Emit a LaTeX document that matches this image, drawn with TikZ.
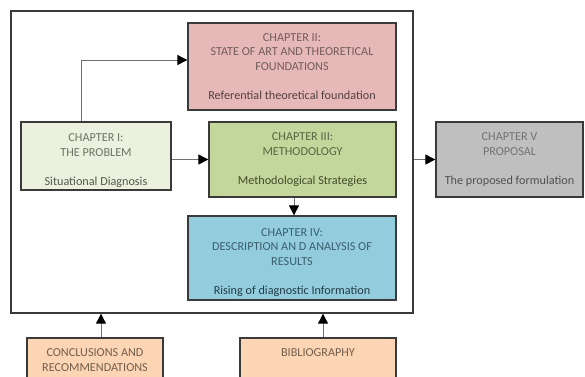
\documentclass[tikz,border=0pt]{standalone}
\usepackage{fontspec}
\setmainfont{Carlito}
\usetikzlibrary{arrows.meta,calc}

\definecolor{edge}{HTML}{3A3A3A}
\definecolor{link}{HTML}{707070}
\definecolor{pinkfill}{HTML}{E6B9B8}
\definecolor{palegreen}{HTML}{EBF1DE}
\definecolor{olivefill}{HTML}{C3D69B}
\definecolor{bluefill}{HTML}{93CDDD}
\definecolor{grayfill}{HTML}{BFBFBF}
\definecolor{peachfill}{HTML}{FCD5B5}

% a tall strut on a first line lowers the whole text block a little
\newcommand{\topgap}{\rule{0pt}{17pt}}

\tikzset{
  chapbox/.style={draw=edge, line width=1.3pt, rectangle, align=center,
    inner sep=0pt, font=\fontsize{12.2}{14.5}\selectfont},
  framebox/.style={draw=edge, line width=1.3pt, rectangle, inner sep=0pt},
  arr/.style={draw=link, line width=0.9pt,
    -{Triangle[length=10pt,width=10pt,fill=black,color=black]}},
}

\begin{document}
\begin{tikzpicture}[x=1pt,y=-1pt]
  \useasboundingbox (0,0) rectangle (585,376);
  \clip (0,0) rectangle (585,376);

  % enclosing frame of the core chapters
  \node[framebox, minimum width=402pt, minimum height=302pt] (frame) at (212,162) {};

  % chapters
  \node[chapbox, fill=pinkfill, minimum width=208pt, minimum height=87pt] (c2) at (292,66.5)
    {\color[HTML]{735C5C}CHAPTER II:\\\color[HTML]{735C5C}STATE OF ART AND THEORETICAL\\\color[HTML]{735C5C}FOUNDATIONS\\[14.5pt]\color[HTML]{544040}Referential theoretical foundation};

  \node[chapbox, fill=palegreen, minimum width=150pt, minimum height=68pt] (c1) at (96,156)
    {\topgap\color[HTML]{6E7264}CHAPTER I:\\\color[HTML]{6E7264}THE PROBLEM\\[14.5pt]\color[HTML]{54584A}Situational Diagnosis};

  \node[chapbox, fill=olivefill, minimum width=187pt, minimum height=75pt] (c3) at (302.5,159.5)
    {\color[HTML]{5A6642}CHAPTER III:\\\color[HTML]{5A6642}METHODOLOGY\\[14.5pt]\color[HTML]{404C2A}Methodological Strategies};

  \node[chapbox, fill=bluefill, minimum width=208pt, minimum height=84pt] (c4) at (292,258)
    {\topgap\color[HTML]{3A5F6E}CHAPTER IV:\\\color[HTML]{3A5F6E}DESCRIPTION AN D ANALYSIS OF\\\color[HTML]{3A5F6E}RESULTS\\[14.5pt]\color[HTML]{223B47}Rising of diagnostic Information};

  \node[chapbox, fill=grayfill, minimum width=147pt, minimum height=75pt] (c5) at (509.5,159.5)
    {\color[HTML]{737373}CHAPTER V\\\color[HTML]{737373}PROPOSAL\\[14.5pt]\color[HTML]{505050}The proposed formulation};

  \node[chapbox, fill=peachfill, minimum width=136pt, minimum height=44pt] (concl) at (95,360)
    {\color[HTML]{735E4B}CONCLUSIONS AND\\\color[HTML]{735E4B}RECOMMENDATIONS};

  \node[chapbox, fill=peachfill, minimum width=156pt, minimum height=44pt] (bib) at (318,360)
    {\color[HTML]{735E4B}BIBLIOGRAPHY\\\mbox{}};

  % connectors
  \coordinate (c1up) at ($(c1.north)+(-15,0)$);
  \coordinate (c2in) at ($(c2.west)+(0,-6.5)$);
  \draw[arr] (c1up) |- (c2in);
  \draw[arr] (c1.east |- c3.west) -- (c3.west);
  \coordinate (c4in) at ($(c4.north)+(2,0)$);
  \draw[arr] (c4in |- c3.south) -- (c4in);
  \draw[arr] (frame.east |- c5.west) -- (c5.west);
  \coordinate (conclout) at ($(concl.north)+(6,0)$);
  \draw[arr] (conclout) -- (conclout |- frame.south);
  \coordinate (bibout) at ($(bib.north)+(5,0)$);
  \draw[arr] (bibout) -- (bibout |- frame.south);
\end{tikzpicture}
\end{document}
